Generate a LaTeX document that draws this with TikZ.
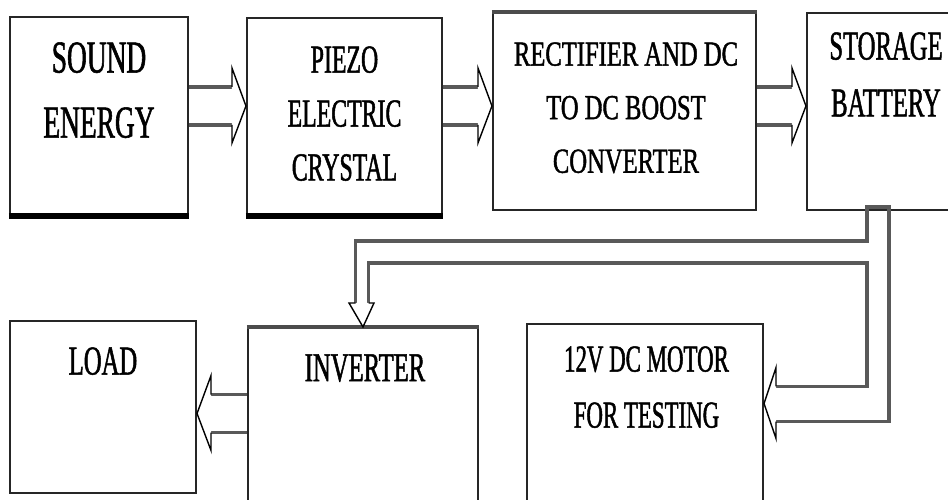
\documentclass[tikz,border=0pt]{standalone}
\usepackage{fontspec}
\newfontfamily\blockfont[FakeStretch=0.6, FakeBold=1.2]{Liberation Serif}
\newfontfamily\wideblockfont[FakeStretch=0.7, FakeBold=1.2]{Liberation Serif}
\usetikzlibrary{calc}
\tikzset{
  block/.style={draw=black!85, line width=1.2pt, inner sep=0pt},
  blocktext/.style={inner sep=0pt, anchor=north, align=center},
  thickedge/.style={line width=3pt},
  shaft/.style={draw=black!65, line width=2.1pt},
  arrowhead/.style={draw=black, line width=0.8pt, fill=white}
}
% hollow block arrow: start, tip, direction (1 right, -1 left)
\newcommand{\bigarrow}[3]{%
  \draw[shaft] ($(#1)+(0,-19)$) -- ($(#2)+(-14*#3,-19)$)
    ($(#1)+(0,19)$) -- ($(#2)+(-14*#3,19)$);
  \draw[arrowhead] ($(#2)+(-14*#3,-19)$) -- ($(#2)+(-14*#3,-38)$) -- (#2)
    -- ($(#2)+(-14*#3,37)$) -- ($(#2)+(-14*#3,19)$);
}
\begin{document}
\begin{tikzpicture}[x=0.02cm, y=-0.02cm]
  \useasboundingbox (0,0) rectangle (948,500);
  \clip (0,0) rectangle (948,500);
  % top row
  \node[block, minimum width=3.56cm, minimum height=3.96cm] (snd) at (99,116) {};
  \node[block, minimum width=3.9cm, minimum height=3.94cm] (pz) at (344.5,116.5) {};
  \node[block, minimum width=5.26cm, minimum height=3.94cm] (rect) at (624.5,111.5) {};
  \node[block, minimum width=3.16cm, minimum height=3.94cm] (bat) at (886,111.5) {};
  \draw[thickedge] (snd.south west) -- (snd.south east);
  \draw[thickedge] (pz.south west) -- (pz.south east);
  \draw[thickedge, line width=2pt, black!70] (rect.north west) -- (rect.north east);
  \node[blocktext, font=\blockfont\fontsize{26}{37}\selectfont] (sndtxt) at ($(snd.north)+(0,26)$) {SOUND\\ENERGY};
  \node[blocktext, font=\blockfont\fontsize{22.6}{30.7}\selectfont] (pztxt) at ($(pz.north)+(0,29)$) {PIEZO\\ELECTRIC\\CRYSTAL};
  \node[blocktext, font=\wideblockfont\fontsize{20}{30.5}\selectfont] (recttxt) at ($(rect.north)+(1.5,30)$) {RECTIFIER AND DC\\TO DC BOOST\\CONVERTER};
  \node[blocktext, font=\blockfont\fontsize{23.4}{32.4}\selectfont] (battxt) at ($(bat.north)+(0,20)$) {STORAGE\\BATTERY};
  % bottom row
  \node[block, minimum width=3.72cm, minimum height=3.44cm] (load) at (103,407) {};
  \node[block, minimum width=4.6cm, minimum height=4.24cm] (inv) at (363,434) {};
  \node[block, minimum width=4.72cm, minimum height=4.32cm] (mot) at (645,432) {};
  \draw[thickedge, black!70, line width=2.5pt] (inv.north west) -- (inv.north east);
  \node[blocktext, font=\blockfont\fontsize{23.4}{32}\selectfont] (loadtxt) at ($(load.north)+(0,27)$) {LOAD};
  \node[blocktext, font=\blockfont\fontsize{23.4}{32}\selectfont] (invtxt) at ($(inv.north)+(2,27)$) {INVERTER};
  \node[blocktext, font=\blockfont\fontsize{21.7}{31.9}\selectfont] (mottxt) at ($(mot.north)+(1.5,23)$) {12V DC MOTOR\\FOR TESTING};
  % arrows
  \coordinate (toprow) at (0,106);
  \coordinate (lowrow) at (0,413.5);
  \bigarrow{snd.east |- toprow}{pz.west |- toprow}{1}
  \bigarrow{pz.east |- toprow}{rect.west |- toprow}{1}
  \bigarrow{rect.east |- toprow}{bat.west |- toprow}{1}
  \bigarrow{inv.west |- lowrow}{load.east |- lowrow}{-1}
  % battery to inverter and motor
  \coordinate (invtip) at (inv.north);
  \coordinate (mottip) at (mot.east |- 0,403.5);
  \draw[shaft] ($(invtip)+(-7.5,-24)$) |- (867,241) -- (867,207) -- (889,207)
    |- ($(mottip)+(12,18)$);
  \draw[shaft] ($(invtip)+(5.5,-24)$) |- (867,263) |- ($(mottip)+(12,-17)$);
  \draw[arrowhead] ($(invtip)+(-7.5,-24)$) -- ($(invtip)+(-14,-24)$) -- (invtip)
    -- ($(invtip)+(11,-24)$) -- ($(invtip)+(5.5,-24)$);
  \draw[arrowhead] ($(mottip)+(12,-17)$) -- ($(mottip)+(12,-36)$) -- (mottip)
    -- ($(mottip)+(12,35)$) -- ($(mottip)+(12,18)$);
\end{tikzpicture}
\end{document}
